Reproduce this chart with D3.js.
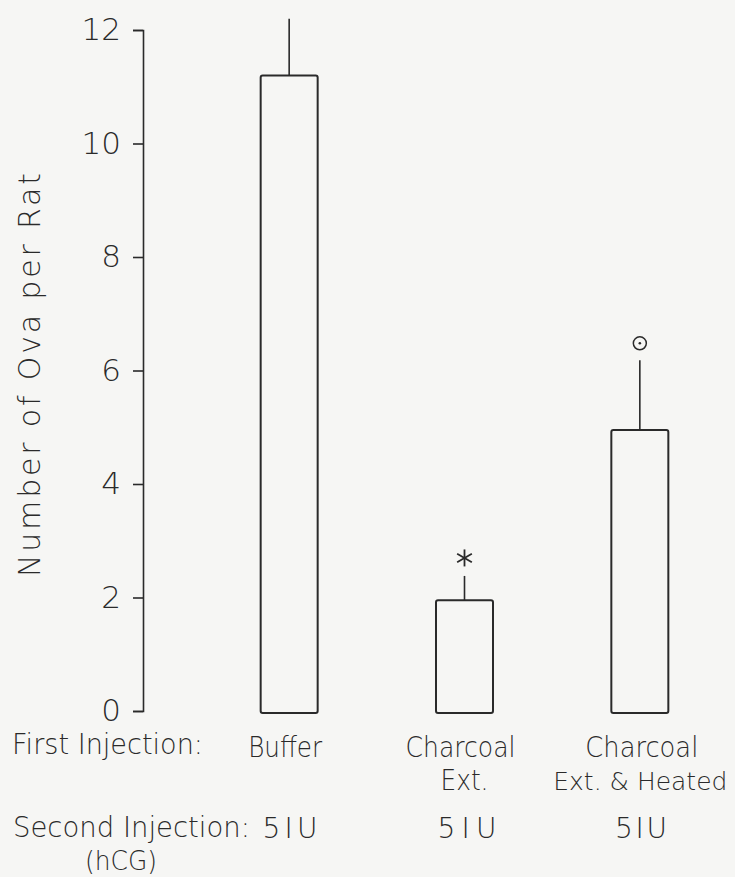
<!DOCTYPE html>
<html>
<head>
<meta charset="utf-8">
<script src="https://cdn.jsdelivr.net/npm/d3@7"></script>
<style>
  html, body { margin: 0; padding: 0; background: #f6f6f4; }
  svg { display: block; }
  text { font-family: "DejaVu Sans", "Open Sans", sans-serif; font-weight: 200; fill: #2a2a2a; }
</style>
</head>
<body>
<div id="chart"></div>
<script>
// ---- data ----
const groups = ["Buffer", "Charcoal Ext.", "Charcoal Ext. & Heated"];
const means = [11.2, 1.95, 4.95];
const errors = [1.0, 0.43, 1.23];
const markers = ["", "asterisk", "circle"];
const yTicks = [0, 2, 4, 6, 8, 10, 12];
const yLabel = "Number of Ova per Rat";
const firstRowTitle = "First Injection:";
const firstLabels = [["Buffer"], ["Charcoal", "Ext."], ["Charcoal", "Ext. & Heated"]];
const secondRowTitle = ["Second Injection:", "(hCG)"];
const secondLabels = ["5IU", "5IU", "5IU"];

// ---- layout ----
const W = 735, H = 877;
const ink = "#2a2a2a";
const svg = d3.select("#chart").append("svg").attr("width", W).attr("height", H);

const y = d3.scaleLinear().domain([0, 12]).range([711, 30]);
const x = d3.scalePoint().domain(groups).range([201.5, 727.5]).padding(0.5);
const barW = 57;
const axisX = 143;

// axis
const axis = d3.axisLeft(y).tickValues(yTicks).tickSize(10).tickPadding(12).tickFormat(d3.format("d"));
const gA = svg.append("g").attr("transform", `translate(${axisX},0)`).call(axis);
gA.selectAll("path, line").attr("stroke", ink).attr("stroke-width", 1.6);
gA.selectAll("text").attr("font-size", 31).attr("fill", ink)
  .style("font-family", '"DejaVu Sans", "Open Sans", sans-serif').style("font-weight", 200);

// y label
svg.append("text")
  .attr("transform", `translate(40,375) rotate(-90)`)
  .attr("text-anchor", "middle")
  .attr("font-size", 30)
  .attr("textLength", 404).attr("lengthAdjust", "spacing")
  .text(yLabel);

// bars
const gB = svg.append("g");
gB.selectAll("rect").data(groups).join("rect")
  .attr("x", d => x(d) - barW / 2)
  .attr("y", (d, i) => y(means[i]))
  .attr("width", barW)
  .attr("height", (d, i) => y(0) - y(means[i]) + 2)
  .attr("rx", 2)
  .attr("fill", "none").attr("stroke", ink).attr("stroke-width", 2);

// error bars (upper only)
gB.selectAll("line.err").data(groups).join("line").attr("class", "err")
  .attr("x1", d => x(d)).attr("x2", d => x(d))
  .attr("y1", (d, i) => y(means[i]))
  .attr("y2", (d, i) => y(means[i] + errors[i]))
  .attr("stroke", ink).attr("stroke-width", 1.6);

// significance markers
groups.forEach((g, i) => {
  const cx = x(g), top = y(means[i] + errors[i]);
  if (markers[i] === "asterisk") {
    const cy = top - 18, r = 8.5;
    [90, 30, 150].forEach(a => {
      const rad = a * Math.PI / 180;
      svg.append("line")
        .attr("x1", cx - r * Math.cos(rad)).attr("y1", cy - r * Math.sin(rad))
        .attr("x2", cx + r * Math.cos(rad)).attr("y2", cy + r * Math.sin(rad))
        .attr("stroke", ink).attr("stroke-width", 1.8);
    });
  } else if (markers[i] === "circle") {
    const cy = top - 17;
    svg.append("circle").attr("cx", cx).attr("cy", cy).attr("r", 6.5)
      .attr("fill", "none").attr("stroke", ink).attr("stroke-width", 1.5);
    svg.append("circle").attr("cx", cx).attr("cy", cy).attr("r", 1.3).attr("fill", ink);
  }
});

// bottom labels
const fs = 28;
svg.append("text").attr("x", 12).attr("y", 754).attr("font-size", fs)
  .attr("textLength", 191).attr("lengthAdjust", "spacingAndGlyphs").text(firstRowTitle);

const firstLens = [[74], [110, 48], [113, 174]];
const firstSizes = [[28], [28, 28], [28, 25.5]];
const firstOff = [-4, -4, 2];
groups.forEach((g, i) => {
  firstLabels[i].forEach((t, j) => {
    svg.append("text").attr("x", x(g) + firstOff[i] + (j === 1 && i === 1 ? 4 : 0) - (j === 1 && i === 2 ? 1.5 : 0))
      .attr("y", 757 + j * 33)
      .attr("text-anchor", "middle").attr("font-size", firstSizes[i][j])
      .attr("textLength", firstLens[i][j]).attr("lengthAdjust", "spacingAndGlyphs")
      .text(t);
  });
});

svg.append("text").attr("x", 13).attr("y", 837).attr("font-size", fs)
  .attr("textLength", 237).attr("lengthAdjust", "spacingAndGlyphs").text(secondRowTitle[0]);
svg.append("text").attr("x", 121).attr("y", 870).attr("font-size", 26)
  .attr("text-anchor", "middle")
  .attr("textLength", 72).attr("lengthAdjust", "spacingAndGlyphs").text(secondRowTitle[1]);

const secondLens = [55, 59, 52];
const secondCenters = [290, 467, 641];
groups.forEach((g, i) => {
  svg.append("text").attr("x", secondCenters[i])
    .attr("y", 838).attr("text-anchor", "middle").attr("font-size", fs)
    .attr("textLength", secondLens[i]).attr("lengthAdjust", "spacing")
    .text(secondLabels[i]);
});
</script>
</body>
</html>
